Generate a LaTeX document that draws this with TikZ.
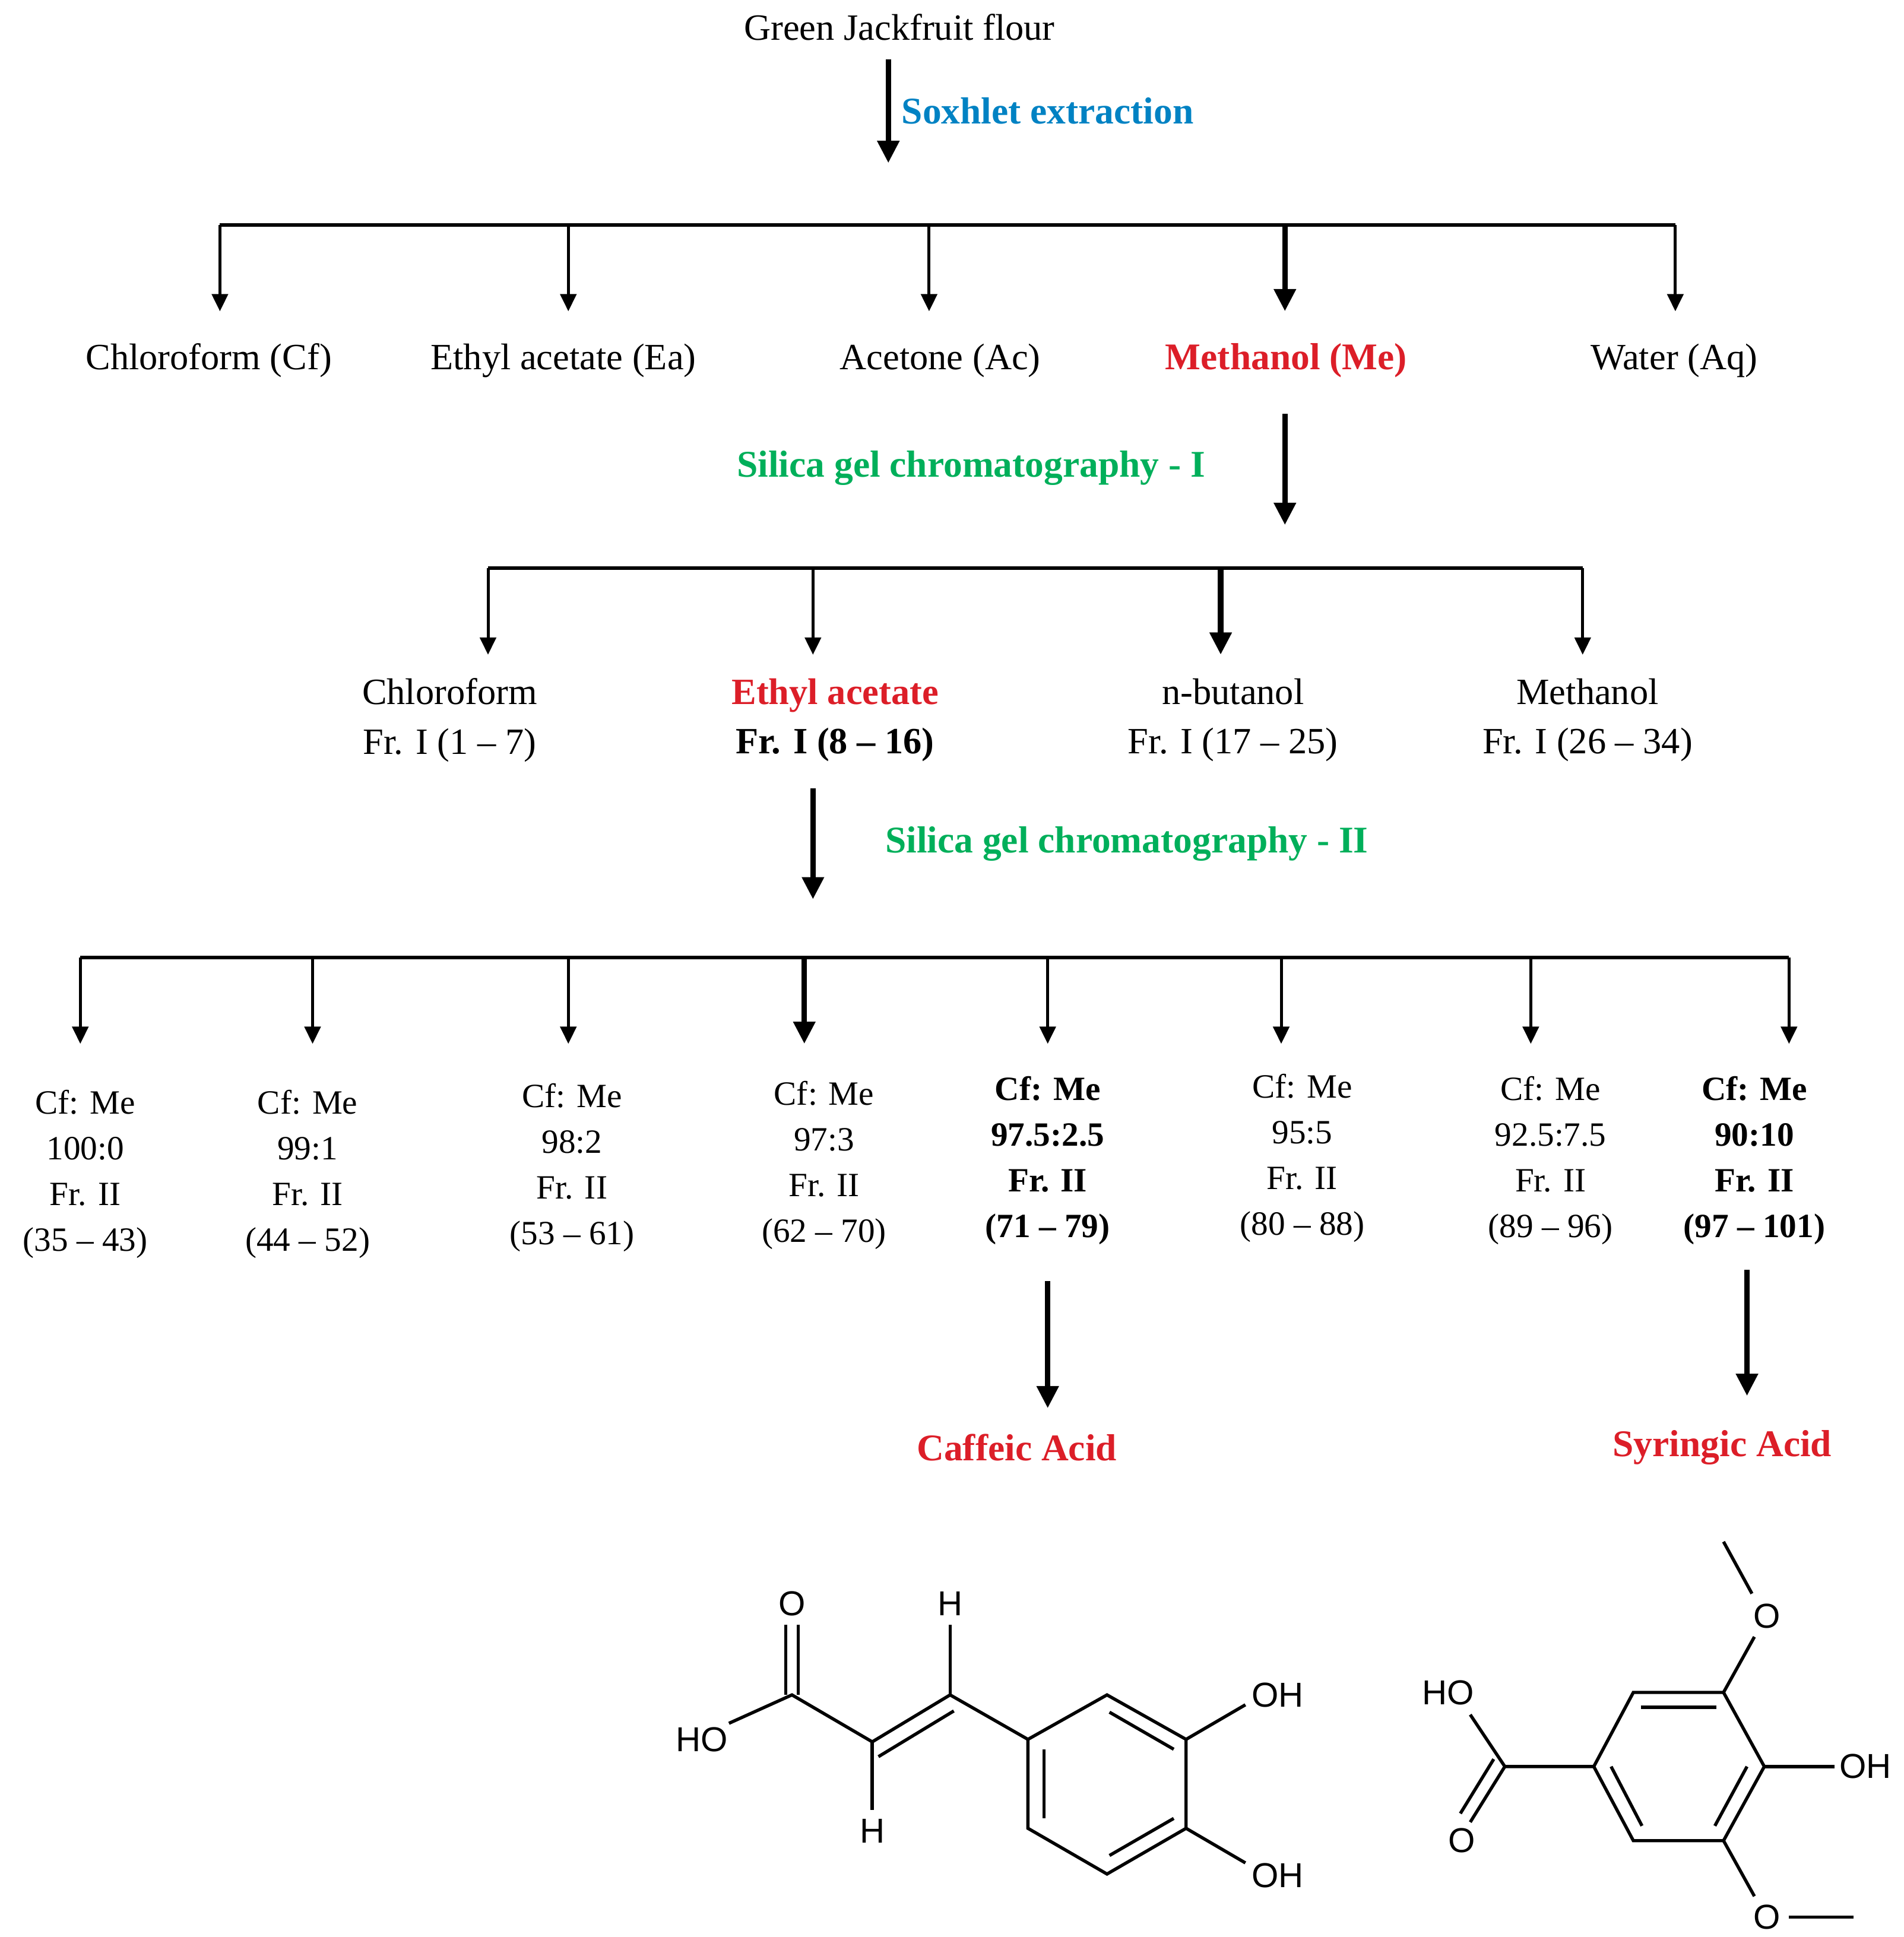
\documentclass[tikz,border=0pt]{standalone}
\usepackage{fontspec}
\setmainfont{Liberation Serif}
\newfontfamily\chemf{Liberation Sans}
\usetikzlibrary{arrows.meta}
\definecolor{sblue}{RGB}{0,130,195}
\definecolor{sgreen}{RGB}{0,175,90}
\definecolor{sred}{RGB}{220,30,40}
\begin{document}
\begin{tikzpicture}[x=1pt,y=-1pt,
  lab/.style={font=\fontsize{30}{36}\selectfont,inner sep=0pt},
  blab/.style={font=\bfseries\fontsize{30.5}{36}\selectfont,inner sep=0pt},
  col/.style={font=\fontsize{27.5}{37}\selectfont,inner sep=0pt,align=center,anchor=north},
  ar/.style={line width=2.4pt,-{Triangle[length=14pt,width=13pt]}},
  tar/.style={line width=4.5pt,-{Triangle[length=18pt,width=17pt]}},
  bar/.style={line width=2.8pt},
  ch/.style={font=\chemf\fontsize{28}{32}\selectfont,inner sep=1pt},
  bd/.style={line width=2.6pt}]
\useasboundingbox (0,0) rectangle (1541,1568);
\node[lab] (gj) at (728,22) {Green Jackfruit flour};
\coordinate (a0) at (719,48); \coordinate (a1) at (719,132);
\draw[tar] (a0) -- (a1);
\node[blab,text=sblue] (sx) at (848,90) {Soxhlet extraction};
% level 1
\coordinate (b1l) at (178,182); \coordinate (b1r) at (1356,182);
\draw[bar] (b1l) -- (b1r);
\foreach \x/\n in {178/cf,460/ea,752/ac,1356/aq}{\coordinate (t\n) at (\x,182); \coordinate (e\n) at (\x,252); \draw[ar] (t\n) -- (e\n);}
\coordinate (tme) at (1040,182); \coordinate (eme) at (1040,252); \draw[tar] (tme) -- (eme);
\node[lab] (ncf) at (169,292) {Chloroform (Cf)};
\node[lab] (nea) at (456,292) {Ethyl acetate (Ea)};
\node[lab] (nac) at (761,292) {Acetone (Ac)};
\node[blab,text=sred] (nme) at (1041,292) {Methanol (Me)};
\node[lab] (naq) at (1355,292) {Water (Aq)};
\coordinate (m0) at (1040,335); \coordinate (m1) at (1040,425);
\draw[tar] (m0) -- (m1);
\node[blab,text=sgreen] (sg1) at (786,379) {Silica gel chromatography - I};
% level 2
\coordinate (b2l) at (395,460); \coordinate (b2r) at (1281,460);
\draw[bar] (b2l) -- (b2r);
\foreach \x/\n in {395/a,658/b,1281/d}{\coordinate (u\n) at (\x,460); \coordinate (v\n) at (\x,530); \draw[ar] (u\n) -- (v\n);}
\coordinate (uc) at (988,460); \coordinate (vc) at (988,530); \draw[tar] (uc) -- (vc);
\node[col,font=\fontsize{30}{40}\selectfont] (f1) at (364,549) {Chloroform\\Fr. I (1 -- 7)};
\node[col,font=\bfseries\fontsize{30}{40}\selectfont] (f2) at (676,549) {\textcolor{sred}{Ethyl acetate}\\Fr. I (8 -- 16)};
\node[col,font=\fontsize{30}{40}\selectfont] (f3) at (998,549) {n-butanol\\Fr. I (17 -- 25)};
\node[col,font=\fontsize{30}{40}\selectfont] (f4) at (1285,549) {Methanol\\Fr. I (26 -- 34)};
\coordinate (n0) at (658,638); \coordinate (n1) at (658,728);
\draw[tar] (n0) -- (n1);
\node[blab,text=sgreen] (sg2) at (912,683) {Silica gel chromatography - II};
% level 3
\coordinate (b3l) at (65,775); \coordinate (b3r) at (1448,775);
\draw[bar] (b3l) -- (b3r);
\foreach \x/\n in {65/1,253/2,460/3,848/5,1037/6,1239/7,1448/8}{\coordinate (p\n) at (\x,775); \coordinate (q\n) at (\x,845); \draw[ar] (p\n) -- (q\n);}
\coordinate (p4) at (651,775); \coordinate (q4) at (651,845); \draw[tar] (p4) -- (q4);
\node[col] (c1) at (69,882) {Cf: Me\\100:0\\Fr. II\\(35 -- 43)};
\node[col] (c2) at (249,882) {Cf: Me\\99:1\\Fr. II\\(44 -- 52)};
\node[col] (c3) at (463,877) {Cf: Me\\98:2\\Fr. II\\(53 -- 61)};
\node[col] (c4) at (667,875) {Cf: Me\\97:3\\Fr. II\\(62 -- 70)};
\node[col,font=\bfseries\fontsize{27.5}{37}\selectfont] (c5) at (848,871) {Cf: Me\\97.5:2.5\\Fr. II\\(71 -- 79)};
\node[col] (c6) at (1054,869) {Cf: Me\\95:5\\Fr. II\\(80 -- 88)};
\node[col] (c7) at (1255,871) {Cf: Me\\92.5:7.5\\Fr. II\\(89 -- 96)};
\node[col,font=\bfseries\fontsize{27.5}{37}\selectfont] (c8) at (1420,871) {Cf: Me\\90:10\\Fr. II\\(97 -- 101)};
\coordinate (k0) at (848,1037); \coordinate (k1) at (848,1140); \draw[tar] (k0) -- (k1);
\coordinate (s0) at (1414,1028); \coordinate (s1) at (1414,1130); \draw[tar] (s0) -- (s1);
\node[blab,text=sred] (ca) at (823,1172) {Caffeic Acid};
\node[blab,text=sred] (sa) at (1394,1172) {Syringic Acid};
% caffeic acid
\node[ch] (o1) at (641,1298) {O};
\node[ch] (ho1) at (568,1408) {HO};
\node[ch] (h1) at (769,1298) {H};
\node[ch] (h2) at (706,1482) {H};
\node[ch] (oh1) at (1034,1372) {OH};
\node[ch] (oh2) at (1034,1518) {OH};
\draw[bd] (636,1315) -- (636,1372); \draw[bd] (646,1315) -- (646,1372);
\draw[bd] (590,1395) -- (641,1372) -- (706,1410) -- (769,1372) -- (832,1408);
\draw[bd] (711,1422) -- (772,1385);
\draw[bd] (706,1410) -- (706,1465);
\draw[bd] (769,1372) -- (769,1315);
\draw[bd] (832,1408) -- (896,1372) -- (960,1408) -- (960,1480) -- (896,1517) -- (832,1480) -- cycle;
\draw[bd] (898,1386) -- (950,1416); \draw[bd] (950,1472) -- (898,1502); \draw[bd] (845,1416) -- (845,1472);
\draw[bd] (960,1408) -- (1008,1380); \draw[bd] (960,1480) -- (1008,1508);
% syringic acid
\node[ch] (ho2) at (1172,1370) {HO};
\node[ch] (o2) at (1183,1490) {O};
\node[ch] (o3) at (1430,1308) {O};
\node[ch] (oh3) at (1510,1430) {OH};
\node[ch] (o4) at (1430,1552) {O};
\draw[bd] (1290,1430) -- (1322,1370) -- (1395,1370) -- (1428,1430) -- (1395,1490) -- (1322,1490) -- cycle;
\draw[bd] (1328,1382) -- (1389,1382); \draw[bd] (1414,1430) -- (1388,1478); \draw[bd] (1304,1430) -- (1329,1478);
\draw[bd] (1290,1430) -- (1218,1430) -- (1190,1388);
\draw[bd] (1218,1430) -- (1190,1475); \draw[bd] (1209,1424) -- (1182,1468);
\draw[bd] (1395,1370) -- (1420,1325); \draw[bd] (1418,1290) -- (1395,1248);
\draw[bd] (1428,1430) -- (1485,1430);
\draw[bd] (1395,1490) -- (1420,1535); \draw[bd] (1448,1552) -- (1500,1552);
\end{tikzpicture}
\end{document}
